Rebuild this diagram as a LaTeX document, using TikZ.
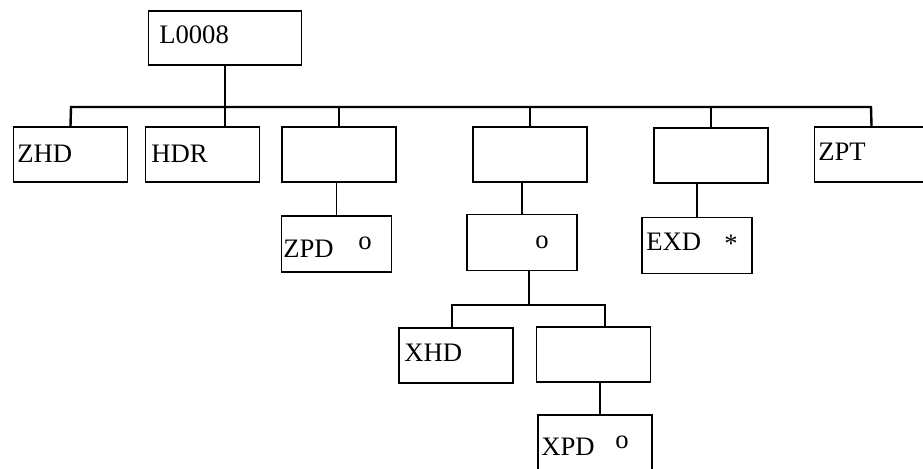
\documentclass[tikz,border=0pt]{standalone}
\usepackage{fontspec}
\setmainfont{Liberation Serif}
\begin{document}
\begin{tikzpicture}[x=0.75pt,y=-0.75pt]
	\tikzset{blk/.style={draw, line width=1.25pt, minimum width=85.5pt, minimum height=41.25pt, inner sep=0pt},
		sblk/.style={blk, minimum width=82.5pt, minimum height=42pt},
		txt/.style={anchor=base west, inner sep=0pt, font=\fontsize{20}{22}\selectfont},
		mrk/.style={anchor=base, inner sep=0pt, font=\fontsize{20}{22}\selectfont},
		bus/.style={line width=1.8pt},
		lnk/.style={line width=1.15pt}}
	\useasboundingbox (0,0) rectangle (923,468);
	\clip (0,0) rectangle (923,468);
	% boxes
	\node[blk, minimum width=114.75pt, minimum height=40.5pt] (top) at (225,38) {};
	\node[blk] (zhd) at (70.5,154.5)  {};
	\node[blk] (hdr) at (202.5,154.5) {};
	\node[blk] (n3)  at (339,154.5)   {};
	\node[blk] (n4)  at (530,154.5)   {};
	\node[blk] (n5)  at (711,155.5)   {};
	\node[blk] (zpt) at (871.5,154.5) {};
	\node[sblk] (zpd) at (336.5,244)  {};
	\node[sblk] (n4o) at (522,242.5)  {};
	\node[sblk] (exd) at (697,245.5)  {};
	\node[blk] (xhd) at (456,355.5)   {};
	\node[blk] (n42) at (593.5,354.5) {};
	\node[blk] (xpd) at (595,442.5)   {};
	% connectors
	\coordinate (busL) at (71,107);
	\coordinate (busR) at (871,107);
	\draw[bus] (zhd.north) -- (busL) -- (busR) -- (zpt.north);
	\draw[bus] (top.south) -- (top.south |- hdr.north);
	\draw[lnk] (n3.north) -- (n3.north |- busL);
	\draw[lnk] (n4.north) -- (n4.north |- busL);
	\draw[lnk] (n5.north) -- (n5.north |- busL);
	\draw[lnk] (zpd.north) -- (zpd.north |- n3.south);
	\draw[lnk] (n4o.north) -- (n4o.north |- n4.south);
	\draw[lnk] (exd.north) -- (exd.north |- n5.south);
	\coordinate (subL) at (452,305);
	\coordinate (subR) at (605,305);
	\coordinate (subT) at (529,305);
	\draw[lnk] (subT |- n4o.south) -- (subT);
	\draw[lnk] (subL |- xhd.north) -- (subL) -- (subR) -- (subR |- n42.north);
	\coordinate (xc) at (600,400);
	\draw[lnk] (xc |- n42.south) -- (xc |- xpd.north);
	% texts
	\node[txt] (topl) at (159,43)  {L0008};
	\node[txt] (zhdl) at (17,162)  {ZHD};
	\node[txt] (hdrl) at (151,162) {HDR};
	\node[txt] (zptl) at (818,160) {ZPT};
	\node[txt] (zpdl) at (283,257) {ZPD};
	\node[mrk] (zpdm) at (365,249) {o};
	\node[mrk] (n4om) at (542,248) {o};
	\node[txt] (exdl) at (646,250) {EXD};
	\node[mrk] (exdm) at (731,252) {*};
	\node[txt] (xhdl) at (404,361) {XHD};
	\node[txt] (xpdl) at (541,455) {XPD};
	\node[mrk] (xpdm) at (622,448) {o};
\end{tikzpicture}
\end{document}
